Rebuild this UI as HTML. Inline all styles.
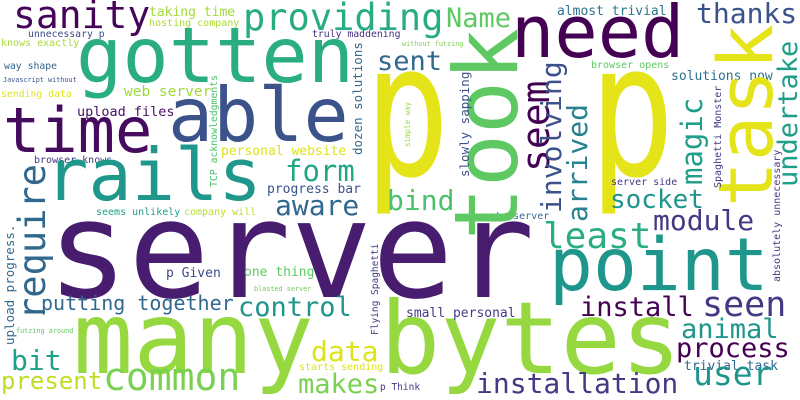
<!DOCTYPE html>
<html><head><meta charset="utf-8"><style>
html,body{margin:0;padding:0;background:#fff;}
svg{display:block;}
text{font-family:"DejaVu Sans Mono","Liberation Mono",monospace;}
</style></head><body>
<svg width="800" height="400" viewBox="0 0 800 400" xmlns="http://www.w3.org/2000/svg">
<rect width="800" height="400" fill="#fff"/>
<text text-anchor="middle" transform="translate(407,175) scale(0.77,1)" font-size="185" fill="#e4e419">p</text>
<text text-anchor="middle" transform="translate(632,175) scale(0.77,1)" font-size="185" fill="#e4e419">p</text>
<text x="47" y="297" font-size="135" fill="#481c6e">server</text>
<text x="73" y="373" font-size="100" fill="#95d840">many</text>
<text x="380" y="373" font-size="100" fill="#95d840">bytes</text>
<text x="13" y="28" font-size="38" fill="#450559">sanity</text>
<text x="76" y="82" font-size="77" fill="#2aae80">gotten</text>
<text x="243" y="30" font-size="37" fill="#27ad81">providing</text>
<text x="446" y="27" font-size="27" fill="#5ec962">Name</text>
<text x="511" y="57" font-size="72" fill="#440154">need</text>
<text x="557" y="15" font-size="13" fill="#2c738e">almost trivial</text>
<text x="696" y="23" font-size="28" fill="#3b528b">thanks</text>
<text x="149" y="16" font-size="13" fill="#a2da37">taking time</text>
<text x="149" y="26" font-size="10" fill="#addc30">hosting company</text>
<text x="28" y="37" font-size="9.8" fill="#3e4a89">unnecessary p</text>
<text x="312" y="37" font-size="9.8" fill="#46307e">truly maddening</text>
<text x="1" y="46" font-size="10" fill="#a8db34">knows exactly</text>
<text x="4" y="69" font-size="9.8" fill="#33638d">way shape</text>
<text x="3" y="82" font-size="6.8" fill="#3a548c">Javascript without</text>
<text x="1" y="97" font-size="9.8" fill="#e2e418">sending data</text>
<text x="124" y="96" font-size="14.5" fill="#a0da39">web server</text>
<text x="77" y="116" font-size="13.5" fill="#471063">upload files</text>
<text x="3" y="152" font-size="62" fill="#460b5e">time</text>
<text x="168" y="141" font-size="75" fill="#3b528b">able</text>
<text x="221" y="155" font-size="13" fill="#dde318">personal website</text>
<text x="34" y="163" font-size="10" fill="#443983">browser knows</text>
<text x="45" y="200" font-size="72" fill="#1f988b">rails</text>
<text x="285" y="181" font-size="29" fill="#22a785">form</text>
<text x="267" y="193" font-size="13" fill="#3b528b">progress bar</text>
<text x="377" y="70" font-size="27" fill="#31688e">sent</text>
<text x="387" y="210" font-size="28" fill="#4ac16d">bind</text>
<text x="275" y="215" font-size="28" fill="#31688e">aware</text>
<text x="96" y="215" font-size="10" fill="#1f9e89">seems unlikely</text>
<text x="184" y="215" font-size="10" fill="#b8de29">company will</text>
<text x="471" y="219" font-size="10" fill="#3e6a8e">remote server</text>
<text x="671" y="80" font-size="13" fill="#2c728e">solutions now</text>
<text x="591" y="68" font-size="10" fill="#5ec962">browser opens</text>
<text x="402" y="46" font-size="6.8" fill="#7ad151">without futzing</text>
<text x="611" y="185" font-size="10" fill="#443983">server side</text>
<text x="610" y="208" font-size="26" fill="#1f968b">socket</text>
<text x="653" y="230" font-size="28" fill="#443983">module</text>
<text x="543" y="248" font-size="36" fill="#29af7f">least</text>
<text x="549" y="290" font-size="73" fill="#1f968b">point</text>
<text x="166" y="277" font-size="13" fill="#3e4a89">p Given</text>
<text x="244" y="276" font-size="13" fill="#5ec962">one thing</text>
<text x="254" y="291" font-size="6.8" fill="#6ece58">blasted server</text>
<text x="41" y="310" font-size="20" fill="#31688e">putting together</text>
<text x="238" y="316" font-size="27" fill="#1f968b">control</text>
<text x="580" y="316" font-size="27" fill="#440154">install</text>
<text x="702" y="316" font-size="35" fill="#443983">seen</text>
<text x="406" y="317" font-size="13" fill="#443983">small personal</text>
<text x="311" y="361" font-size="28" fill="#dde318">data</text>
<text x="11" y="370" font-size="28" fill="#1fa187">bit</text>
<text x="299" y="370" font-size="10" fill="#dde318">starts sending</text>
<text x="16" y="333" font-size="6.8" fill="#5ec962">futzing around</text>
<text x="1" y="389" font-size="24" fill="#bddf26">present</text>
<text x="103" y="390" font-size="38" fill="#7ad151">common</text>
<text x="298" y="393" font-size="27" fill="#7ad151">makes</text>
<text x="380" y="390" font-size="9.5" fill="#443983">p Think</text>
<text x="476" y="393" font-size="28" fill="#443983">installation</text>
<text x="681" y="338" font-size="27" fill="#1f968b">animal</text>
<text x="676" y="357" font-size="27" fill="#440154">process</text>
<text x="684" y="370" font-size="13" fill="#31688e">trivial task</text>
<text x="693" y="385" font-size="33" fill="#1f968b">user</text>
<text transform="translate(517,240) rotate(-90)" font-size="88" fill="#5ec962">took</text>
<text transform="translate(772,207) rotate(-90)" font-size="76" fill="#e4e419">task</text>
<text transform="translate(797,187) rotate(-90)" font-size="27" fill="#1f9e89">undertake</text>
<text transform="translate(549,172) rotate(-90)" font-size="38" fill="#440154">seem</text>
<text transform="translate(561,213) rotate(-90)" font-size="28" fill="#3b528b">involving</text>
<text transform="translate(587,222) rotate(-90)" font-size="28" fill="#26828e">arrived</text>
<text transform="translate(702,185) rotate(-90)" font-size="29" fill="#1f9e89">magic</text>
<text transform="translate(469,177) rotate(-90)" font-size="12.5" fill="#3b528b">slowly sapping</text>
<text transform="translate(410,147) rotate(-90)" font-size="7.5" fill="#a0da39">simple way</text>
<text transform="translate(362,155) rotate(-90)" font-size="12.5" fill="#31688e">dozen solutions</text>
<text transform="translate(217,187) rotate(-90)" font-size="9.8" fill="#4ac16d">TCP acknowledgments</text>
<text transform="translate(721,188) rotate(-90)" font-size="10" fill="#443983">Spaghetti Monster</text>
<text transform="translate(780,282) rotate(-90)" font-size="10" fill="#443983">absolutely unnecessary</text>
<text transform="translate(45,320) rotate(-90)" font-size="37" fill="#31688e">require</text>
<text transform="translate(14,345) rotate(-90)" font-size="12.5" fill="#31688e">upload progress.</text>
<text transform="translate(378,335) rotate(-90)" font-size="9.5" fill="#443983">Flying Spaghetti</text>
</svg>
</body></html>
